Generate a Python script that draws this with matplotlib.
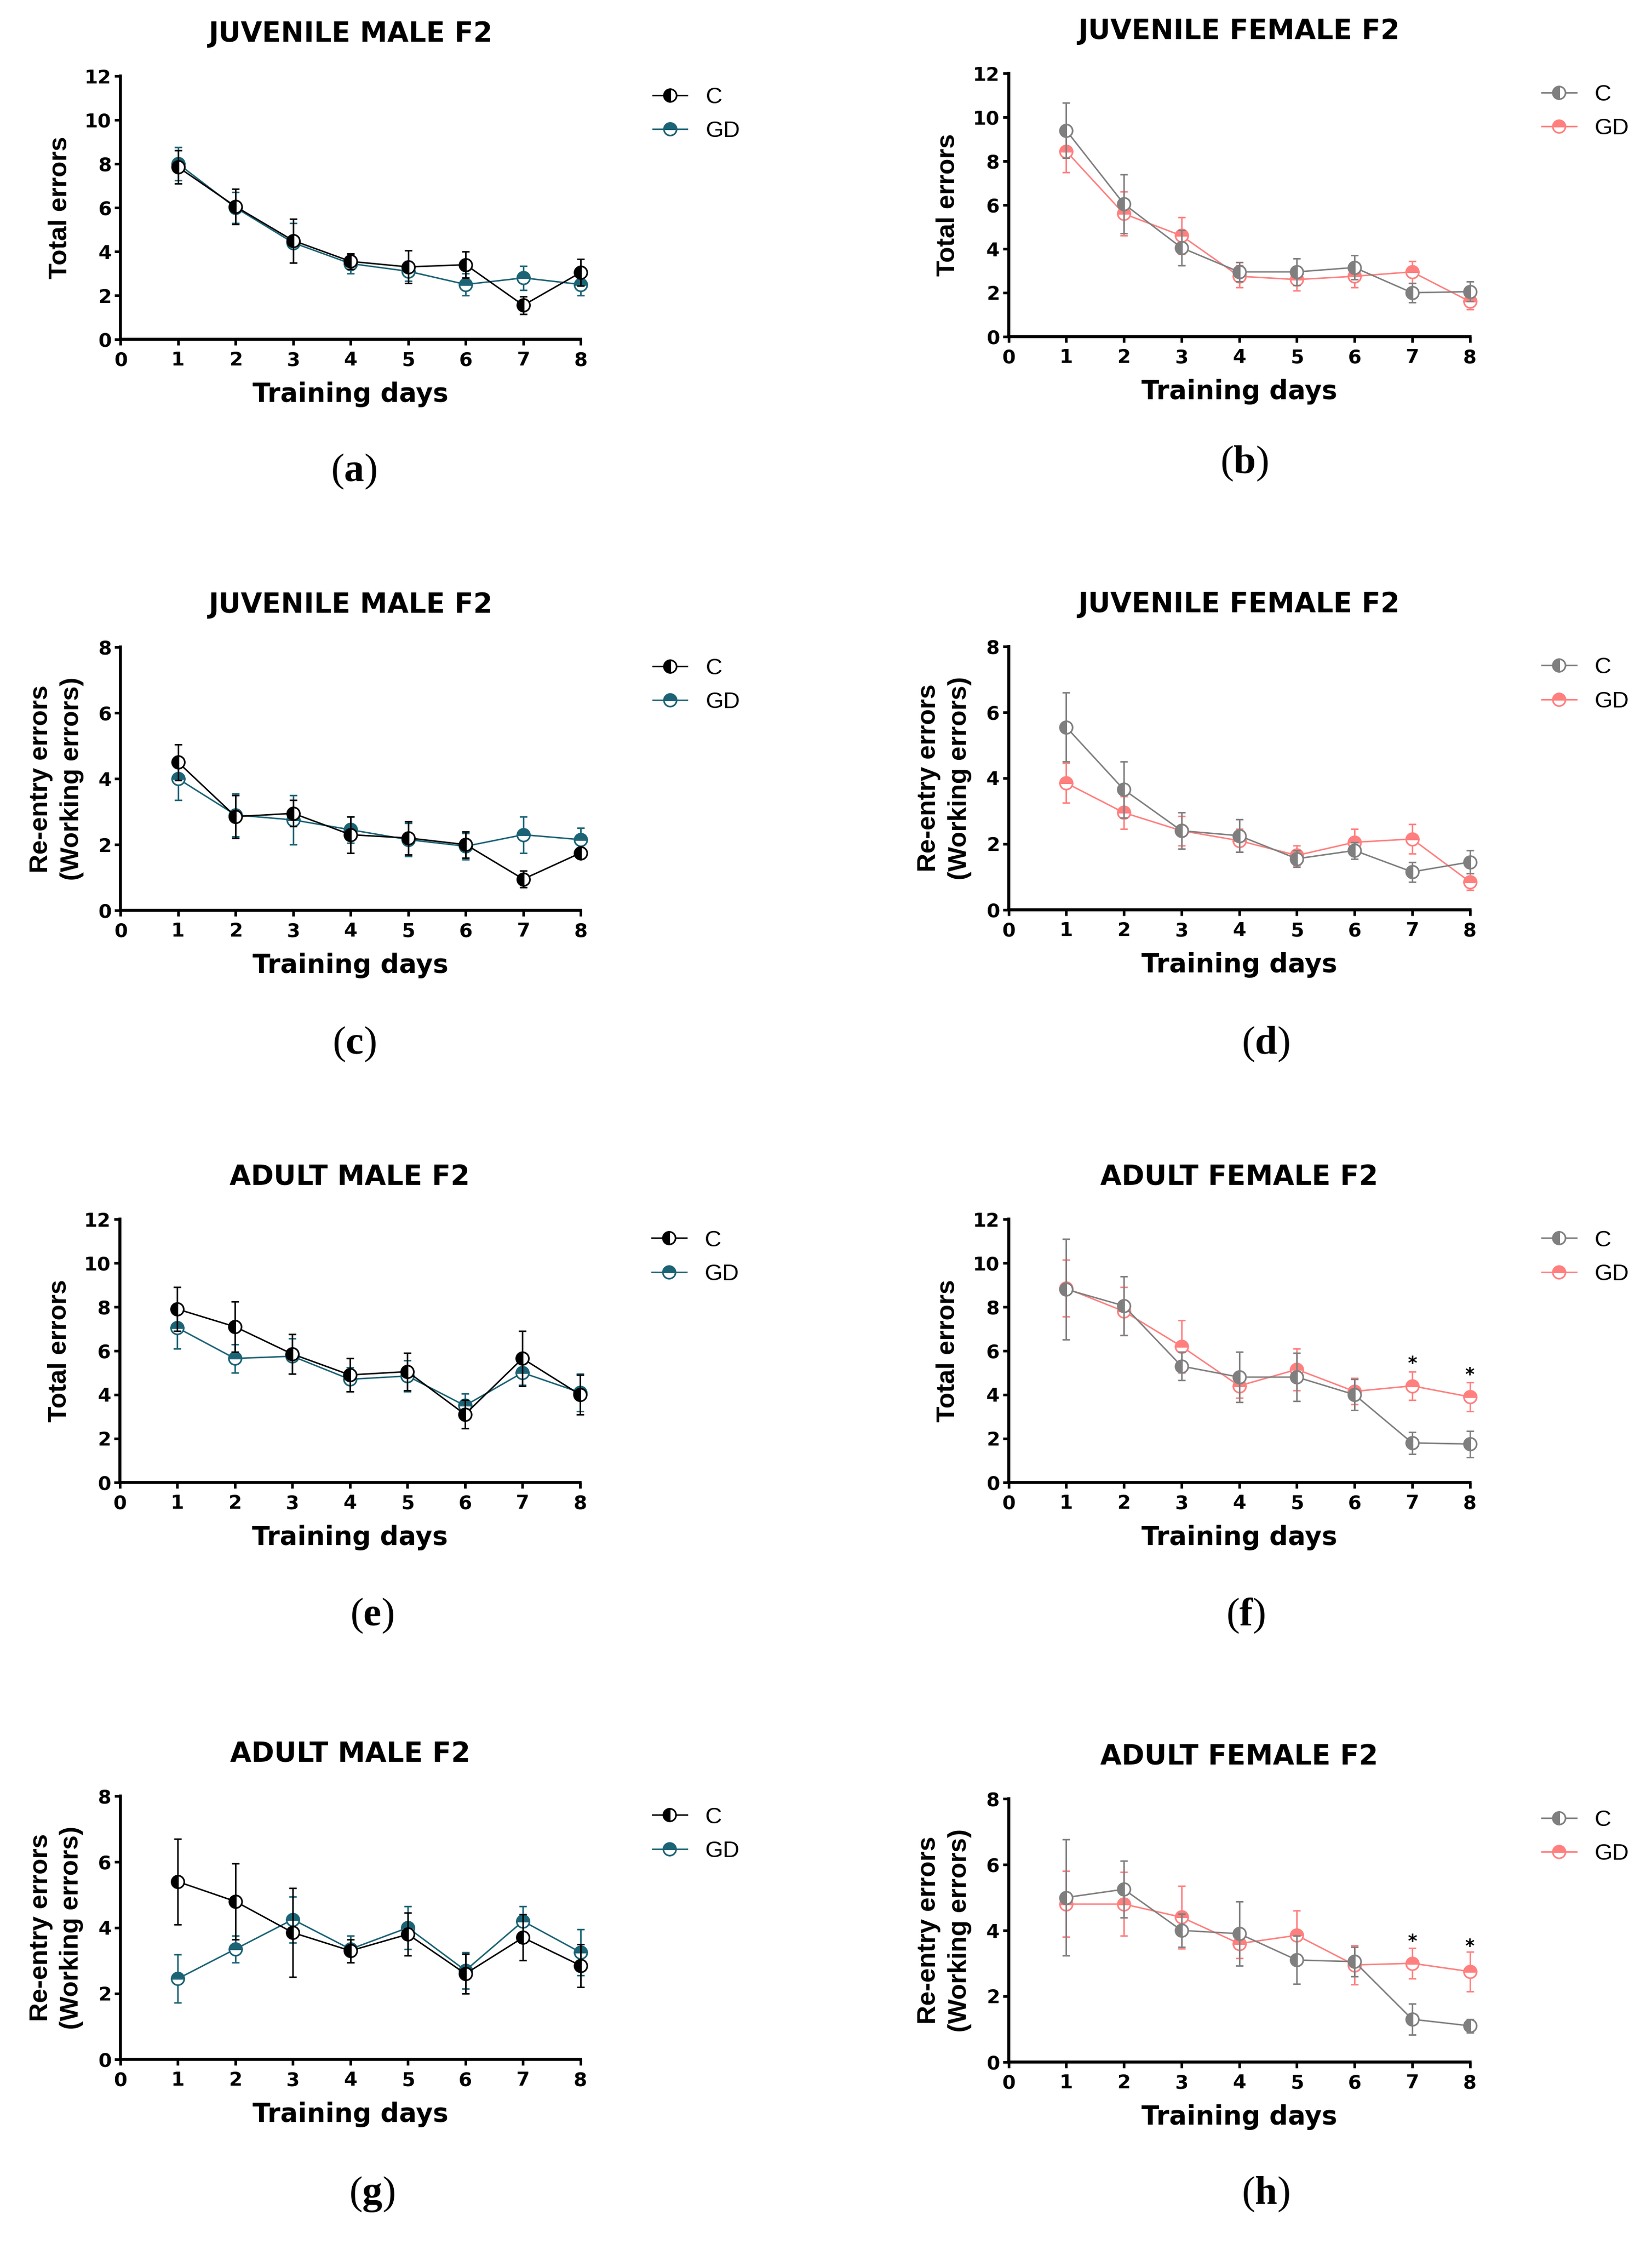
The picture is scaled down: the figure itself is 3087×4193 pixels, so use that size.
import matplotlib
matplotlib.use("Agg")
import matplotlib.pyplot as plt

plt.rcParams['mathtext.fontset'] = 'custom'
plt.rcParams['mathtext.rm'] = 'Liberation Serif'
plt.rcParams['mathtext.bf'] = 'Liberation Serif:bold'

days = [1, 2, 3, 4, 5, 6, 7, 8]
groups = ["C", "GD"]

# (a) Juvenile male F2 - total errors
a_c_mean = [7.85, 6.05, 4.5, 3.55, 3.3, 3.4, 1.55, 3.05]
a_c_sem = [0.75, 0.8, 1.0, 0.35, 0.75, 0.6, 0.4, 0.6]
a_gd_mean = [8.0, 6.0, 4.4, 3.45, 3.1, 2.5, 2.8, 2.5]
a_gd_sem = [0.75, 0.7, 0.9, 0.45, 0.45, 0.5, 0.55, 0.5]

# (b) Juvenile female F2 - total errors
b_c_mean = [9.4, 6.05, 4.05, 2.95, 2.95, 3.15, 2.0, 2.05]
b_c_sem = [1.25, 1.35, 0.8, 0.45, 0.6, 0.55, 0.45, 0.45]
b_gd_mean = [8.45, 5.6, 4.6, 2.75, 2.6, 2.75, 2.95, 1.6]
b_gd_sem = [0.95, 1.0, 0.85, 0.5, 0.5, 0.5, 0.5, 0.35]

# (c) Juvenile male F2 - re-entry errors
c_c_mean = [4.5, 2.85, 2.95, 2.3, 2.2, 2.0, 0.95, 1.75]
c_c_sem = [0.55, 0.65, 0.4, 0.55, 0.5, 0.4, 0.25, 0.15]
c_gd_mean = [4.0, 2.9, 2.75, 2.45, 2.15, 1.95, 2.3, 2.15]
c_gd_sem = [0.65, 0.65, 0.75, 0.4, 0.5, 0.4, 0.55, 0.35]

# (d) Juvenile female F2 - re-entry errors
d_c_mean = [5.55, 3.65, 2.4, 2.25, 1.55, 1.8, 1.15, 1.45]
d_c_sem = [1.05, 0.85, 0.55, 0.5, 0.25, 0.25, 0.3, 0.35]
d_gd_mean = [3.85, 2.95, 2.4, 2.1, 1.65, 2.05, 2.15, 0.85]
d_gd_sem = [0.6, 0.5, 0.45, 0.35, 0.3, 0.4, 0.45, 0.25]

# (e) Adult male F2 - total errors
e_c_mean = [7.9, 7.1, 5.85, 4.9, 5.05, 3.1, 5.65, 4.0]
e_c_sem = [1.0, 1.15, 0.9, 0.75, 0.85, 0.65, 1.25, 0.9]
e_gd_mean = [7.05, 5.65, 5.75, 4.7, 4.85, 3.5, 5.0, 4.1]
e_gd_sem = [0.95, 0.65, 0.8, 0.55, 0.7, 0.55, 0.55, 0.85]

# (f) Adult female F2 - total errors
f_c_mean = [8.8, 8.05, 5.3, 4.8, 4.8, 4.0, 1.8, 1.75]
f_c_sem = [2.3, 1.35, 0.65, 1.15, 1.1, 0.7, 0.5, 0.6]
f_gd_mean = [8.85, 7.8, 6.2, 4.4, 5.15, 4.15, 4.4, 3.9]
f_gd_sem = [1.3, 1.1, 1.2, 0.55, 0.95, 0.6, 0.65, 0.65]
f_star_days = [7, 8]
f_star_y = [5.4, 4.9]

# (g) Adult male F2 - re-entry errors
g_c_mean = [5.4, 4.8, 3.85, 3.3, 3.8, 2.6, 3.7, 2.85]
g_c_sem = [1.3, 1.15, 1.35, 0.35, 0.65, 0.6, 0.7, 0.65]
g_gd_mean = [2.45, 3.35, 4.25, 3.35, 4.0, 2.7, 4.2, 3.25]
g_gd_sem = [0.73, 0.4, 0.7, 0.4, 0.65, 0.55, 0.45, 0.7]

# (h) Adult female F2 - re-entry errors
h_c_mean = [5.0, 5.25, 4.0, 3.9, 3.1, 3.05, 1.3, 1.1]
h_c_sem = [1.77, 0.86, 0.5, 0.98, 0.73, 0.45, 0.47, 0.2]
h_gd_mean = [4.8, 4.8, 4.4, 3.6, 3.85, 2.95, 3.0, 2.75]
h_gd_sem = [1.0, 0.97, 0.95, 0.45, 0.76, 0.6, 0.47, 0.6]
h_star_days = [7, 8]
h_star_y = [3.65, 3.5]

titles = ["JUVENILE MALE F2", "JUVENILE FEMALE F2", "JUVENILE MALE F2", "JUVENILE FEMALE F2",
          "ADULT MALE F2", "ADULT FEMALE F2", "ADULT MALE F2", "ADULT FEMALE F2"]
panel_letters = ["a", "b", "c", "d", "e", "f", "g", "h"]
ylabel_total = "Total errors"
ylabel_reentry = "Re-entry errors\n(Working errors)"
xlabel = "Training days"

male_colors = ["#000000", "#1B6375"]
female_colors = ["#7F7F7F", "#FF7F7F"]

panels = [
    dict(c=(a_c_mean, a_c_sem), gd=(a_gd_mean, a_gd_sem), ymax=12, ylabel=ylabel_total, colors=male_colors,
         rect=[0.0730, 0.8488, 0.2786, 0.1173], lab=(0.2141, 0.7901), stars=None),
    dict(c=(b_c_mean, b_c_sem), gd=(b_gd_mean, b_gd_sem), ymax=12, ylabel=ylabel_total, colors=female_colors,
         rect=[0.6105, 0.8500, 0.2792, 0.1173], lab=(0.7532, 0.7937), stars=None),
    dict(c=(c_c_mean, c_c_sem), gd=(c_gd_mean, c_gd_sem), ymax=8, ylabel=ylabel_reentry, colors=male_colors,
         rect=[0.0730, 0.5943, 0.2786, 0.1173], lab=(0.2144, 0.5349), stars=None),
    dict(c=(d_c_mean, d_c_sem), gd=(d_gd_mean, d_gd_sem), ymax=8, ylabel=ylabel_reentry, colors=female_colors,
         rect=[0.6105, 0.5946, 0.2792, 0.1173], lab=(0.7661, 0.5349), stars=None),
    dict(c=(e_c_mean, e_c_sem), gd=(e_gd_mean, e_gd_sem), ymax=12, ylabel=ylabel_total, colors=male_colors,
         rect=[0.0725, 0.3394, 0.2786, 0.1173], lab=(0.2251, 0.2800), stars=None),
    dict(c=(f_c_mean, f_c_sem), gd=(f_gd_mean, f_gd_sem), ymax=12, ylabel=ylabel_total, colors=female_colors,
         rect=[0.6105, 0.3394, 0.2792, 0.1173], lab=(0.7541, 0.2800), stars=(f_star_days, f_star_y)),
    dict(c=(g_c_mean, g_c_sem), gd=(g_gd_mean, g_gd_sem), ymax=8, ylabel=ylabel_reentry, colors=male_colors,
         rect=[0.0728, 0.0823, 0.2786, 0.1173], lab=(0.2251, 0.0222), stars=None),
    dict(c=(h_c_mean, h_c_sem), gd=(h_gd_mean, h_gd_sem), ymax=8, ylabel=ylabel_reentry, colors=female_colors,
         rect=[0.6105, 0.0811, 0.2792, 0.1173], lab=(0.7661, 0.0222), stars=(h_star_days, h_star_y)),
]

fig = plt.figure(figsize=(30.87, 41.93), dpi=100)

for i, p in enumerate(panels):
    ax = fig.add_axes(p["rect"])
    col_c, col_gd = p["colors"]
    handles = {}
    # GD first, C on top
    for key, col, fs, z in [("gd", col_gd, "top", 3), ("c", col_c, "left", 4)]:
        mean, sem = p[key]
        ax.errorbar(days, mean, yerr=sem, fmt='none', ecolor=col, elinewidth=2.0,
                    capsize=5, capthick=2.0, zorder=z, clip_on=False)
        ln, = ax.plot(days, mean, color=col, lw=2.0, marker='o', ms=17, mew=2.2,
                      fillstyle=fs, markerfacecolor=col, markerfacecoloralt='white',
                      markeredgecolor=col, zorder=z + 0.5, clip_on=False)
        handles[key] = ln
    if p["stars"] is not None:
        sd, sy = p["stars"]
        for xd, yv in zip(sd, sy):
            ax.text(xd, yv, "*", ha='center', va='center', fontsize=24, fontweight='bold',
                    family='DejaVu Sans', color='black')

    ax.set_xlim(0, 8)
    ax.set_ylim(0, p["ymax"])
    ax.set_xticks(range(0, 9))
    ax.set_yticks(range(0, p["ymax"] + 1, 2))
    for s in ['top', 'right']:
        ax.spines[s].set_visible(False)
    for s in ['left', 'bottom']:
        ax.spines[s].set_linewidth(4)
    ax.tick_params(axis='both', direction='out', length=8, width=3.5)
    ax.tick_params(axis='y', pad=4)
    ax.tick_params(axis='x', pad=8)
    for lbl in ax.get_xticklabels() + ax.get_yticklabels():
        lbl.set_fontfamily('DejaVu Sans')
        lbl.set_fontweight('bold')
        lbl.set_fontsize(26)

    ax.set_xlabel(xlabel, fontsize=35, fontweight='bold', family='DejaVu Sans')
    ax.xaxis.set_label_coords(0.5, -0.16)
    ax.set_ylabel(p["ylabel"], fontsize=35, fontweight='bold', family='Liberation Sans',
                  linespacing=1.35)
    if p["ymax"] == 12:
        ax.yaxis.set_label_coords(-0.105, 0.5)
    else:
        ax.yaxis.set_label_coords(-0.08, 0.5)

    ax.text(0.5, 1.13, titles[i], transform=ax.transAxes, ha='center', va='baseline',
            fontsize=37, fontweight='bold', family='DejaVu Sans')

    ax.legend([handles["c"], handles["gd"]], groups, loc='center left',
              bbox_to_anchor=(1.156, 0.855), frameon=False, borderpad=0, borderaxespad=0,
              handlelength=1.5, handletextpad=0.8, labelspacing=0.55,
              prop={'family': 'Liberation Sans', 'size': 31})

    fig.text(p["lab"][0], p["lab"][1], r'$\mathrm{(}\mathbf{%s}\mathrm{)}$' % panel_letters[i],
             ha='center', va='center', fontsize=54)

fig.savefig("out.png", dpi=100)
